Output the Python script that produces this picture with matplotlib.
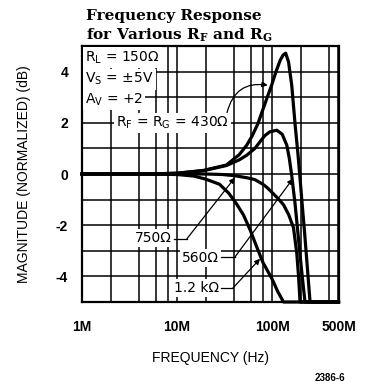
import matplotlib
matplotlib.use("Agg")
import matplotlib.pyplot as plt
import numpy as np

plt.rcParams['font.family'] = ['Liberation Sans', 'DejaVu Sans']
plt.rcParams['mathtext.default'] = 'regular'

# ---- data (frequency in MHz, magnitude in dB) ----
f430 = [1, 5, 10, 19, 33, 45, 54, 62, 71, 78, 88, 99, 110, 122, 131, 139, 149, 161, 175, 187, 197, 222, 251, 500]
m430 = [0, 0, 0.03, 0.14, 0.35, 0.75, 1.12, 1.5, 1.97, 2.4, 2.95, 3.47, 4.0, 4.45, 4.65, 4.72, 4.38, 3.47, 1.9, 0.8, -0.19, -2.48, -5, -5]

f560 = [1, 5, 10, 19, 33, 45, 54, 66, 75, 84, 95, 112, 128, 143, 152, 161, 175, 189, 205, 222, 500]
m560 = [0, 0, 0.03, 0.13, 0.33, 0.55, 0.73, 1.0, 1.27, 1.5, 1.65, 1.71, 1.55, 1.12, 0.6, -0.06, -1.2, -2.48, -3.8, -5, -5]

f750 = [1, 10, 20, 30, 41, 55, 66, 80, 88, 100, 115, 132, 150, 168, 182, 190, 197, 500]
m750 = [0, 0, 0, -0.02, -0.07, -0.15, -0.22, -0.4, -0.52, -0.72, -0.95, -1.2, -1.6, -2.1, -3.1, -4.0, -5, -5]

f1k2 = [1, 5, 10, 15, 20, 28, 35, 42, 50, 59, 69, 80, 100, 115, 132, 500]
m1k2 = [0, 0, -0.02, -0.08, -0.2, -0.4, -0.75, -1.15, -1.6, -2.2, -2.85, -3.45, -4.1, -4.6, -5, -5]

xtick_vals = [1e6, 1e7, 1e8, 5e8]
xtick_labels = ['1M', '10M', '100M', '500M']
ytick_vals = [4, 2, 0, -2, -4]
ytick_labels = ['4', '2', '0', '-2', '-4']

fig = plt.figure(figsize=(3.69, 3.84), dpi=100)
ax = fig.add_axes([82/369, 1-302/384, (338.5-82)/369, (302-46)/384])

for f, m in [(f430, m430), (f560, m560), (f750, m750), (f1k2, m1k2)]:
    ax.plot(np.array(f) * 1e6, m, color='black', lw=2.3, clip_on=False, zorder=3,
            solid_joinstyle='round')

ax.set_xscale('log')
ax.set_xlim(1e6, 5e8)
ax.set_ylim(-5, 5)

# grid lines
minor_x = [m * 10**e for e in (6, 7, 8) for m in (2, 4, 6, 8)]
minor_x = [v for v in minor_x if v < 5e8]
ax.set_xticks(xtick_vals)
ax.set_xticklabels(xtick_labels)
ax.set_xticks(minor_x, minor=True)
ax.set_xticklabels([], minor=True)
ax.set_yticks(ytick_vals)
ax.set_yticklabels(ytick_labels)
ax.set_yticks([3, 1, -1, -3], minor=True)
ax.grid(True, which='both', color='black', lw=1.1)
ax.set_axisbelow(True)
ax.tick_params(which='both', length=0)
ax.tick_params(axis='x', pad=13, labelsize=10)
ax.tick_params(axis='y', pad=10, labelsize=10)
for lab in ax.get_xticklabels() + ax.get_yticklabels():
    lab.set_fontweight('bold')
for s in ax.spines.values():
    s.set_linewidth(1.6)

ax.set_xlabel('FREQUENCY (Hz)', fontsize=10, labelpad=12)
ax.set_ylabel('MAGNITUDE (NORMALIZED) (dB)', fontsize=10, labelpad=18)

box = dict(facecolor='white', edgecolor='none', pad=1.5)
tkw = dict(fontsize=10, va='center', ha='left', bbox=box, zorder=4, family='DejaVu Sans')
ax.text(1.08e6, 4.55, 'R$_{L}$ = 150Ω', **tkw)
ax.text(1.08e6, 3.7, 'V$_{S}$ = ±5V', **tkw)
ax.text(1.08e6, 2.9, 'A$_{V}$ = +2', **tkw)
ax.text(2.3e6, 2.0, 'R$_{F}$ = R$_{G}$ = 430Ω', **tkw)

akw = dict(arrowstyle='-|>', color='black', lw=0.9, mutation_scale=8, shrinkA=0, shrinkB=0)
ax.annotate('', xy=(90e6, 3.47), xytext=(33.6e6, 2.4),
            arrowprops=dict(connectionstyle='arc3,rad=-0.45', **akw), zorder=5)

lkw = dict(fontsize=10, va='center', ha='right', bbox=box, zorder=4, family='DejaVu Sans')
# 750
ax.text(8.9e6, -2.49, '750Ω', **lkw)
ax.plot([9.3e6, 12.7e6], [-2.53, -2.53], color='black', lw=0.9, zorder=5)
ax.annotate('', xy=(40.7e6, -0.14), xytext=(12.7e6, -2.53), arrowprops=akw, zorder=5)
# 560
ax.text(27.5e6, -3.27, '560Ω', **lkw)
ax.plot([29e6, 40.7e6], [-3.24, -3.24], color='black', lw=0.9, zorder=5)
ax.annotate('', xy=(166e6, -0.18), xytext=(40.7e6, -3.24), arrowprops=akw, zorder=5)
# 1.2k
ax.text(27.5e6, -4.45, '1.2 kΩ', **lkw)
ax.plot([29e6, 38.8e6], [-4.45, -4.45], color='black', lw=0.9, zorder=5)
ax.annotate('', xy=(74.8e6, -3.31), xytext=(38.8e6, -4.45), arrowprops=akw, zorder=5)

fig.text(86/369, 1-20/384, 'Frequency Response', family='DejaVu Serif',
         fontweight='bold', fontsize=11, va='baseline', ha='left')
fig.text(86/369, 1-40/384, 'for Various R$_{F}$ and R$_{G}$', family='DejaVu Serif',
         fontweight='bold', fontsize=11, va='baseline', ha='left')
fig.text(345/369, 1-378/384, '2386-6', fontsize=7, fontweight='bold', ha='right', va='center')

fig.savefig('out.png', dpi=100)
